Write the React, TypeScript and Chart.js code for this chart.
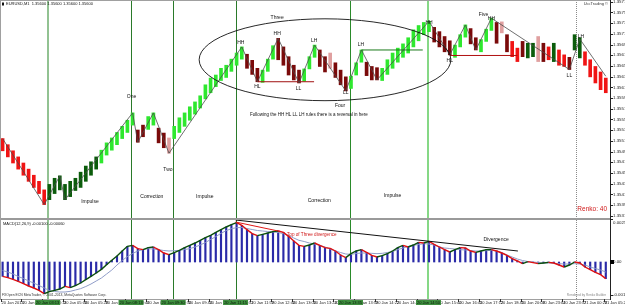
import React, { useEffect, useRef } from "react";
import { Chart, registerables } from "chart.js";

Chart.register(...registerables);

const FONT = '"Liberation Sans", Arial, sans-serif';

// ---------------- DATA ----------------
// Renko bricks: [low, high] in brick levels, one per bar (index = bar number)
const brickRanges: [number, number][] = [
  [11, 13], [10, 12], [9, 11], [8, 10], [7, 9], [6, 8], [5, 7], [4, 6], [2.2, 4.6], [3, 5.5],
  [4, 6.5], [4.6, 6.9], [3, 5.5], [3.5, 6], [4.5, 6.5], [5, 7.5], [6, 8.5], [7, 9.2], [8, 10], [9, 11.1],
  [10.3, 12.3], [11.1, 13.1], [12, 14], [13, 15], [14, 16], [15.2, 17.2], [12.4, 14.4], [13.3, 15.2], [14.5, 16.6], [15.2, 17.2],
  [12.3, 14.7], [11.5, 13.9], [10.6, 13.1], [13, 15], [14, 16.4], [15, 17.2], [16, 18.2], [17, 19], [18, 20], [19.5, 21.8],
  [20.5, 22.9], [21.5, 23.4], [22.5, 24.5], [23, 25], [24, 26], [25, 27], [26, 28], [24.5, 26.8], [23.5, 25.8], [22.3, 24.5],
  [22.2, 24.2], [24, 26], [26, 28.2], [25.9, 29.4], [25, 28], [23.4, 26.4], [22.6, 25], [22.1, 24.2], [22.4, 24.4], [24.4, 26.4],
  [26.3, 28.3], [24.8, 27.5], [23.9, 26.4], [24.5, 27], [23, 25.4], [21.8, 24.2], [20.8, 23.1], [21.2, 23.2], [23.4, 25.4], [25.5, 27.5],
  [23.3, 25.5], [22.6, 24.8], [22.6, 24.6], [22.5, 24.5], [23.5, 25.9], [24.5, 27], [25.5, 27.8], [26.3, 28.5], [27, 29.5], [28, 30.8],
  [29, 31.5], [30, 32], [30.5, 32.2], [28.8, 31.2], [28, 30.5], [27.2, 29.7], [26.7, 29], [26.3, 28.3], [28, 30], [29.6, 31.6],
  [28.5, 31], [27.5, 29.5], [27.2, 29.2], [28.9, 30.9], [30.7, 32.7], [28.6, 32], [30.3, 32.1], [27.2, 30], [26.4, 28.9], [25.6, 27.8],
  [26.4, 28.9], [26.2, 28.6], [26.4, 28.6], [25.6, 29.7], [25.6, 28.6], [25.9, 28], [25.6, 28.6], [25, 27.5], [24.8, 26.7], [24.3, 26.3],
  [27.5, 30], [26.2, 29.5], [25, 27.2], [23.1, 25.9], [22.1, 24.8], [21, 23.9], [20.5, 22.9],
];

// brick colour codes: R red, r dark red, G lime, g dark green, p pale red
const brickColorCodes: string[] = (
  "RRRRRRRRR" + "gggggggggg" + "GGGGGGG" + "rr" + "GG" + "rr" + "p" +
  "GGGGGGGGGGGGGG" + "rrr" + "GGG" + "rrrrr" + "GGG" + "rr" + "p" + "rrr" + "GGG" + "rrr" +
  "GGGGGGGGGG" + "rrrr" + "GGG" + "rr" + "GGG" + "r" + "p" + "r" + "RR" + "r" + "gg" + "p" +
  "r" + "R" + "g" + "RR" + "r" + "gg" + "RRRRR"
).split("");

// ZigZag pivots: [bar, level]
const zigzagPivots: [number, number][] = [
  [0, 13], [8, 2.2], [11, 6.9], [12, 3], [25, 17.2], [26, 12.4], [29, 17.2], [32, 10.6],
  [46, 28], [49, 22.3], [53, 29.4], [57, 22.1], [60, 28.3], [66, 20.8], [69, 27.5], [72, 22.6],
  [82, 32.2], [86, 26.7], [89, 31.6], [91, 27.5], [94, 32.7], [109, 24.3], [111, 29.3], [116, 23.2],
];

// MACD histogram and signal, in 1e-5 (points)
const macdHist: number[] = [
  -86, -94, -104, -116, -130, -144, -156, -170, -190, -178,
  -170, -162, -146, -154, -142, -126, -106, -86, -66, -44,
  -16, 10, 36, 66, 94, 100, 80, 74, 86, 90,
  74, 54, 44, 56, 70, 86, 100, 114, 130, 146,
  160, 178, 194, 210, 224, 236, 220, 194, 170, 158,
  166, 174, 182, 186, 178, 154, 126, 100, 94, 102,
  114, 100, 86, 82, 66, 42, 26, 50, 66, 74,
  58, 40, 30, 38, 50, 66, 86, 100, 90, 102,
  118, 114, 124, 106, 90, 74, 60, 74, 86, 84,
  66, 58, 66, 74, 74, 66, 54, 40, 20, 6,
  -10, 2, -4, -10, -6, -2, -6, -18, -30, -18,
  0, -6, -30, -46, -62, -76, -100,
];
const macdSignal: number[] = [
  -51, -60, -72, -87, -99, -114, -126, -141, -156, -171,
  -177, -180, -180, -176, -168, -160, -147, -132, -114, -96,
  -72, -48, -18, 9, 33, 51, 66, 74, 80, 78,
  74, 69, 66, 68, 70, 75, 80, 90, 102, 117,
  135, 152, 172, 188, 200, 206, 207, 201, 195, 189,
  186, 183, 180, 177, 170, 159, 144, 130, 123, 114,
  108, 100, 90, 78, 66, 57, 48, 46, 51, 54,
  54, 52, 50, 52, 57, 63, 74, 84, 93, 100,
  105, 110, 108, 102, 90, 84, 81, 78, 74, 72,
  69, 66, 66, 68, 70, 66, 57, 42, 30, 18,
  9, 3, 0, -3, -6, -6, -8, -10, -12, -12,
  -10, -12, -18, -30, -39, -48, -60,
];

// Price axis tick labels (right scale)
const priceTickLabels: string[] = [
  "1.35770", "1.35750", "1.35730", "1.35710", "1.35690", "1.35670", "1.35650", "1.35630",
  "1.35610", "1.35590", "1.35570", "1.35550", "1.35530", "1.35510", "1.35490", "1.35470",
  "1.35450", "1.35430", "1.35410", "1.35390", "1.35370",
];
// MACD axis labels: [value in 1e-5, text]
const macdTickLabels: [number, string][] = [[258, "0.00258"], [0, "0.00"], [-199, "-0.00199"]];

// Time axis labels, one every 4 bars
const timeLabels: string[] = [
  "20 Jan 2014", "20 Jan 02:40", "20 Jan 03:13", "20 Jan 05:06", "20 Jan 05:28", "20 Jan 07:12",
  "20 Jan 08:46", "20 Jan 09:14", "20 Jan 09:30", "20 Jan 09:44", "20 Jan 11:02", "20 Jan 11:31",
  "20 Jan 11:59", "20 Jan 12:40", "20 Jan 13:00", "20 Jan 13:24", "20 Jan 13:42", "20 Jan 13:59",
  "20 Jan 14:22", "20 Jan 14:46", "20 Jan 15:10", "20 Jan 15:40", "20 Jan 16:45", "20 Jan 17:12",
  "20 Jan 18:45", "20 Jan 20:08", "20 Jan 23:04", "20 Jan 23:37", "21 Jan 00:28", "21 Jan 05:28",
];

// Vertical lines (bar position), with their time tags
const vLineBars: number[] = [8.67, 24.7, 32.8, 44.8, 66.9, 81.9, 110.2];
const vLineTimes: string[] = ["20 Jan 03:13", "20 Jan 08:13", "20 Jan 09:30", "20 Jan 11:15", "20 Jan 13:35", "20 Jan 14:50", ""];

// ---------------- STYLE / CONVERSION ----------------
const LEVEL_BASE = 1.353657;
const LEVEL_STEP = 0.00011421;
const lv = (L: number) => LEVEL_BASE + L * LEVEL_STEP;

const BRICK_COLORS: Record<string, string> = {
  R: "#f01414", r: "#7a0a0a", G: "#2ee82e", g: "#0b5c0b", p: "#e0a0a0",
};
const vLineStyles = [
  { color: "#92c292", width: 2, dash: [] as number[] },
  { color: "#2a7a2a", width: 1, dash: [] },
  { color: "#2a7a2a", width: 1, dash: [] },
  { color: "#2a7a2a", width: 1, dash: [] },
  { color: "#2a8a2a", width: 1, dash: [] },
  { color: "#86d886", width: 2, dash: [] },
  { color: "#8a8a8a", width: 1, dash: [1, 1] },
];

const levelLines = [
  { from: 49, to: 59.9, L: 22.3, color: "#a01010" },
  { from: 69, to: 80.8, L: 27.5, color: "#1a7a1a" },
  { from: 86, to: 99, L: 26.6, color: "#b01010" },
];

const priceNotes = [
  { t: "One", i: 24.8, L: 19.85 }, { t: "Two", i: 31.8, L: 7.86 },
  { t: "Impulse", i: 16.8, L: 2.67 }, { t: "Correction", i: 28.7, L: 3.5 },
  { t: "Impulse", i: 38.9, L: 3.5 }, { t: "Correction", i: 60.9, L: 2.8 },
  { t: "Impulse", i: 75, L: 3.6 }, { t: "Three", i: 52.8, L: 32.8 },
  { t: "Four", i: 64.9, L: 18.4 },
  { t: "Following the HH HL LL LH rules there is a reversal in here", i: 58.9, L: 16.9, size: 4.5 },
  { t: "HH", i: 45.8, L: 28.7 }, { t: "HH", i: 52.8, L: 30.1 }, { t: "LH", i: 59.9, L: 29 },
  { t: "HL", i: 49, L: 21.5 }, { t: "LL", i: 56.9, L: 21.2 }, { t: "LL", i: 66, L: 20.5 },
  { t: "LH", i: 68.9, L: 28.3 }, { t: "HH", i: 82, L: 31.9 }, { t: "HL", i: 86, L: 25.7 },
  { t: "Five", i: 92.5, L: 33.3 }, { t: "HH", i: 94, L: 32.6 }, { t: "LL", i: 109, L: 23.3 },
  { t: "LH", i: 111.2, L: 29.7 },
];

function text(ctx: CanvasRenderingContext2D, s: string, x: number, y: number, size: number,
  color = "#111", align: CanvasTextAlign = "center", baseline: CanvasTextBaseline = "middle") {
  ctx.font = `${size}px ${FONT}`;
  ctx.fillStyle = color;
  ctx.textAlign = align;
  ctx.textBaseline = baseline;
  ctx.fillText(s, x, y);
}

const overlay = {
  id: "overlay",
  beforeDatasetsDraw(chart: any) {
    const { ctx, chartArea: a, scales } = chart;
    ctx.save();
    vLineBars.forEach((b, k) => {
      const st = vLineStyles[k];
      const px = Math.round(scales.x.getPixelForValue(b)) + (st.width === 2 ? 0 : 0.5);
      ctx.strokeStyle = st.color;
      ctx.lineWidth = st.width;
      ctx.setLineDash(st.dash);
      ctx.beginPath();
      ctx.moveTo(px, 0);
      ctx.lineTo(px, a.bottom);
      ctx.stroke();
    });
    ctx.restore();
  },
  afterDatasetsDraw(chart: any) {
    const { ctx, chartArea: a, scales } = chart;
    const xs = scales.x, ys = scales.y, y2 = scales.y2;
    ctx.save();
    // ellipse around the "Three" top
    const cx = xs.getPixelForValue(62), cy = ys.getPixelForValue(lv(25.9));
    const rx = xs.getPixelForValue(62 + 24.2) - cx;
    const ry = cy - ys.getPixelForValue(lv(25.9 + 6.7));
    ctx.beginPath();
    ctx.ellipse(cx, cy, rx, ry, 0, 0, Math.PI * 2);
    ctx.strokeStyle = "#111";
    ctx.lineWidth = 0.9;
    ctx.stroke();

    for (const n of priceNotes as any[]) {
      text(ctx, n.t, xs.getPixelForValue(n.i), ys.getPixelForValue(lv(n.L)), n.size ?? 5);
    }
    text(ctx, "Renko: 40", a.right - 3, 209, 6.5, "#d01818", "right");
    text(ctx, "Top of Three divergence", xs.getPixelForValue(54.7), y2.getPixelForValue(162), 4.6, "#d01818", "left");
    text(ctx, "Divergence", xs.getPixelForValue(94.9), y2.getPixelForValue(132), 5, "#111");

    // panel frame
    ctx.fillStyle = "#9a9a9a";
    ctx.fillRect(0, 218, a.right, 2);
    ctx.strokeStyle = "#a0a0a0";
    ctx.lineWidth = 1;
    ctx.beginPath();
    ctx.moveTo(0, 0.5); ctx.lineTo(a.right, 0.5);
    ctx.moveTo(0.5, 0); ctx.lineTo(0.5, a.bottom);
    ctx.moveTo(0, a.bottom + 0.5); ctx.lineTo(a.right, a.bottom + 0.5);
    ctx.stroke();

    // right axis
    ctx.strokeStyle = "#222";
    ctx.beginPath();
    ctx.moveTo(a.right + 0.5, 0); ctx.lineTo(a.right + 0.5, a.bottom + 1);
    for (const t of priceTickLabels) {
      const p = Math.round(ys.getPixelForValue(parseFloat(t))) + 0.5;
      ctx.moveTo(a.right, p); ctx.lineTo(a.right + 3, p);
    }
    for (const [v] of macdTickLabels) {
      const p = Math.round(y2.getPixelForValue(v)) + 0.5;
      ctx.moveTo(a.right, p); ctx.lineTo(a.right + 3, p);
    }
    ctx.stroke();
    for (const t of priceTickLabels) {
      text(ctx, t, a.right + 3, ys.getPixelForValue(parseFloat(t)), 4.4, "#222", "left");
    }
    macdTickLabels.forEach(([v, t], k) => {
      const p = y2.getPixelForValue(v);
      text(ctx, t, a.right + 3, k === 0 ? 222.5 : p, 4.4, "#222", "left");
    });
    ctx.fillStyle = "#000";
    ctx.fillRect(a.right, y2.getPixelForValue(0) - 2, 4, 4);

    // headers and footers
    text(ctx, "EURUSD,M1  1.35600 1.35600 1.35600 1.35600", 6, 4, 4, "#111", "left");
    ctx.fillStyle = "#111";
    ctx.fillRect(2, 2.5, 2, 3);
    text(ctx, "UccTrading ©", a.right - 2, 4, 4, "#333", "right");
    text(ctx, "MACD(12,26,9) -0.00100 -0.00060", 3, 224, 4, "#111", "left");
    text(ctx, "FXOpen ECN MetaTrader, © 2001-2013, MetaQuotes Software Corp.", 2, 295.5, 3.4, "#333", "left");
    text(ctx, "Rendered by Renko Builder", a.right - 4, 295.5, 3.2, "#888", "right");

    // time axis
    ctx.strokeStyle = "#333";
    ctx.beginPath();
    timeLabels.forEach((s, k) => {
      const px = xs.getPixelForValue(4 * k) - 2;
      ctx.moveTo(Math.round(px) + 0.5, a.bottom);
      ctx.lineTo(Math.round(px) + 0.5, a.bottom + 3);
    });
    ctx.stroke();
    timeLabels.forEach((s, k) => {
      const px = xs.getPixelForValue(4 * k) - 2;
      text(ctx, s, px + 1, 302.5, 4, "#222", "left");
    });
    vLineBars.forEach((b, k) => {
      if (!vLineTimes[k]) return;
      const px = xs.getPixelForValue(b);
      ctx.fillStyle = "#3f8f3f";
      ctx.fillRect(px - 12.5, a.bottom + 1, 25, 305 - a.bottom - 1);
      text(ctx, vLineTimes[k], px, 302.5, 4, "#0a1a0a", "center");
    });
    ctx.restore();
  },
};

export default function App() {
  const ref = useRef<HTMLCanvasElement | null>(null);

  useEffect(() => {
    if (!ref.current) return;
    const zig = zigzagPivots.map(([i, L]) => ({ x: i, y: lv(L) }));
    const levelSets = levelLines.map((l) => ({
      type: "line" as const,
      data: [{ x: l.from, y: lv(l.L) }, { x: l.to, y: lv(l.L) }],
      borderColor: l.color,
      borderWidth: 1,
      pointRadius: 0,
      yAxisID: "y",
    }));

    const chart = new Chart(ref.current, {
      type: "bar",
      data: {
        datasets: [
          {
            type: "line",
            data: zig,
            borderColor: "#4a4a4a",
            borderWidth: 0.8,
            pointRadius: 0,
            yAxisID: "y",
          } as any,
          ...levelSets,
          {
            type: "line",
            data: [{ x: 44.8, y: 252 }, { x: 99.1, y: 66 }],
            borderColor: "#111",
            borderWidth: 1,
            pointRadius: 0,
            yAxisID: "y2",
          },
          {
            type: "line",
            data: [{ x: 44.8, y: 240 }, { x: 53.3, y: 184 }],
            borderColor: "#e01818",
            borderWidth: 1,
            pointRadius: 0,
            yAxisID: "y2",
          },
          {
            type: "line",
            data: macdHist.map((v, i) => ({ x: i, y: v })),
            borderWidth: 1.4,
            pointRadius: 0,
            yAxisID: "y2",
            segment: {
              borderColor: (c: any) => (c.p1.parsed.y >= c.p0.parsed.y ? "#0b4f0b" : "#e01010"),
            },
          } as any,
          {
            type: "line",
            data: macdSignal.map((v, i) => ({ x: i, y: v })),
            borderColor: "#8f9cc8",
            borderWidth: 1,
            pointRadius: 0,
            yAxisID: "y2",
          },
          {
            type: "bar",
            data: brickRanges.map(([lo, hi], i) => ({ x: i, y: [lv(lo), lv(hi)] })),
            backgroundColor: brickColorCodes.map((c) => BRICK_COLORS[c]),
            barThickness: 3,
            grouped: false,
            borderWidth: 0,
            yAxisID: "y",
          } as any,
          {
            type: "bar",
            data: macdHist.map((v, i) => ({ x: i, y: v })),
            backgroundColor: "#2a2aa8",
            barThickness: 1.5,
            grouped: false,
            borderWidth: 0,
            yAxisID: "y2",
          } as any,
        ],
      },
      options: {
        animation: false,
        responsive: false,
        devicePixelRatio: 1,
        events: [],
        layout: { padding: { left: 0, top: 1, right: 15, bottom: 6 } },
        plugins: { legend: { display: false }, tooltip: { enabled: false } },
        scales: {
          x: { type: "linear", min: -0.5, max: 116.81, offset: false, display: false },
          y: { type: "linear", min: 1.352143, max: 1.3577131, display: false },
          y2: { type: "linear", min: -222, max: 1566, display: false },
        },
      } as any,
      plugins: [overlay],
    });
    return () => chart.destroy();
  }, []);

  return (
    <div style={{ position: "absolute", left: 0, top: 0, width: 625, height: 305, background: "#fff" }}>
      <canvas ref={ref} width={625} height={305} style={{ width: 625, height: 305, display: "block" }} />
    </div>
  );
}
